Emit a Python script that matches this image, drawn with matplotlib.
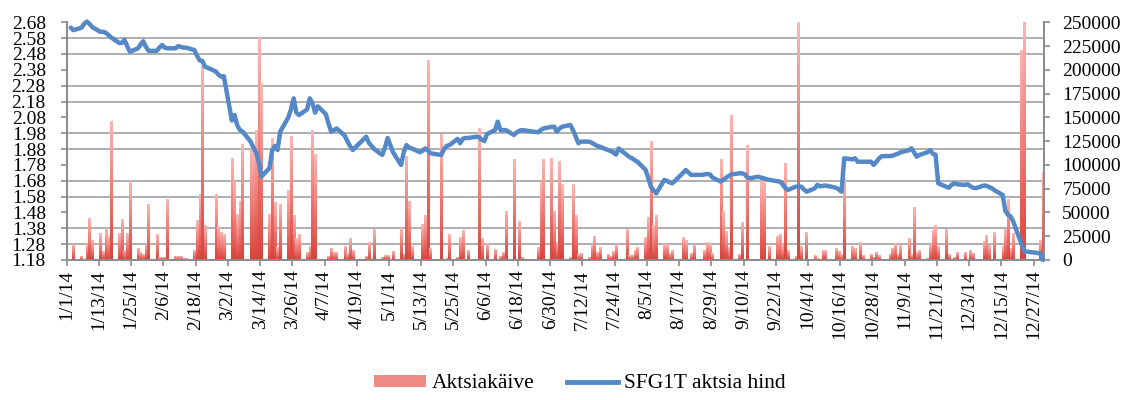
import numpy as np
import pandas as pd
import matplotlib
matplotlib.use('Agg')
import matplotlib.pyplot as plt
from matplotlib.ticker import FixedLocator, FuncFormatter
from matplotlib.patches import Patch
from matplotlib.lines import Line2D
from matplotlib.colors import LinearSegmentedColormap

plt.rcParams['font.family'] = ['Liberation Serif', 'DejaVu Serif']

# ---- data ----
HOLIDAYS = ['2014-01-01', '2014-02-24', '2014-04-18', '2014-04-21', '2014-05-01',
            '2014-06-23', '2014-06-24', '2014-08-20', '2014-12-24', '2014-12-25',
            '2014-12-26', '2014-12-31']

# SFG1T closing price, one value per trading day (month per line)
price = [
    2.646, 2.63, 2.646, 2.67, 2.685, 2.67, 2.65, 2.62, 2.62, 2.615, 2.60, 2.585, 2.55, 2.55, 2.57, 2.53, 2.495, 2.515, 2.54, 2.56, 2.525, 2.50,
    2.50, 2.52, 2.537, 2.52, 2.516, 2.516, 2.53, 2.525, 2.52, 2.52, 2.505, 2.47, 2.44, 2.436, 2.40, 2.37, 2.35, 2.337, 2.34,
    2.06, 2.095, 2.03, 2.00, 1.99, 1.927, 1.89, 1.86, 1.80, 1.706, 1.76, 1.87, 1.90, 1.874, 1.99, 2.08, 2.13, 2.20, 2.11, 2.095, 2.13,
    2.20, 2.17, 2.11, 2.15, 2.10, 2.04, 1.99, 2.00, 2.01, 1.965, 1.93, 1.90, 1.874, 1.958, 1.92, 1.90, 1.88, 1.843, 1.89, 1.95,
    1.86, 1.78, 1.86, 1.905, 1.89, 1.884, 1.86, 1.87, 1.884, 1.87, 1.853, 1.845, 1.843, 1.88, 1.90, 1.905, 1.944, 1.917, 1.945, 1.95, 1.95,
    1.958, 1.955, 1.94, 1.93, 1.975, 2.00, 2.053, 2.00, 2.00, 2.00, 1.969, 1.985, 1.995, 2.00, 1.998, 1.986, 2.00, 2.01, 2.02,
    2.021, 1.99, 2.01, 2.021, 2.032, 2.00, 1.96, 1.917, 1.927, 1.927, 1.92, 1.91, 1.90, 1.895, 1.874, 1.868, 1.86, 1.845, 1.884, 1.843, 1.83, 1.822, 1.81,
    1.80, 1.75, 1.70, 1.643, 1.62, 1.60, 1.685, 1.68, 1.67, 1.664, 1.68, 1.73, 1.748, 1.717, 1.717, 1.717, 1.72, 1.723, 1.72, 1.70,
    1.675, 1.685, 1.70, 1.71, 1.72, 1.727, 1.727, 1.72, 1.70, 1.696, 1.706, 1.70, 1.696, 1.69, 1.686, 1.678, 1.675, 1.66, 1.635, 1.622, 1.643, 1.643,
    1.643, 1.625, 1.611, 1.632, 1.654, 1.645, 1.648, 1.65, 1.64, 1.636, 1.625, 1.611, 1.822, 1.815, 1.822, 1.80, 1.80, 1.80, 1.80, 1.78, 1.80, 1.822, 1.835,
    1.836, 1.838, 1.845, 1.85, 1.86, 1.872, 1.885, 1.86, 1.832, 1.843, 1.86, 1.874, 1.85, 1.845, 1.664, 1.642, 1.636, 1.655, 1.664, 1.658,
    1.654, 1.658, 1.645, 1.636, 1.633, 1.65, 1.648, 1.64, 1.632, 1.62, 1.59, 1.49, 1.465, 1.455, 1.42, 1.28, 1.235, 1.222, 1.18,
]

# traded volume, one value per trading day (month per line)
volume = [
    0, 16500, 4200, 0, 16500, 43800, 21000, 28000, 8800, 33300, 24500, 146000, 28000, 43000, 9500, 28000, 83000, 12300, 8000, 6000, 15800, 58500,
    27300, 2800, 2800, 2800, 64000, 4200, 4200, 4200, 1800, 1800, 9500, 42000, 68400, 203000, 36000, 68400, 35000, 29000, 26300,
    107000, 82400, 48000, 62000, 121700, 115700, 114600, 135700, 233000, 185800, 48000, 127300, 60700, 13000, 58500, 72600, 130400, 47300, 22100, 27000, 8000,
    14700, 135700, 111100, 0, 0, 3200, 12300, 7700, 8400, 13700, 6700, 22800, 10500, 3200, 18600, 1800, 32600, 2500, 4600, 4600,
    9000, 33300, 6000, 108700, 62000, 14000, 0, 37500, 46600, 210000, 11600, 0, 132000, 0, 1800, 27300, 2800, 23500, 31500, 0, 9500,
    0, 138500, 22100, 0, 17500, 11200, 0, 3500, 8000, 50800, 106200, 0, 41000, 2500, 0, 13300, 81700, 105200, 107000,
    51500, 18600, 103400, 79600, 2800, 79000, 47300, 6000, 7000, 2500, 15800, 24500, 8000, 13000, 5300, 3500, 8800, 15800, 0, 32600, 4600, 4600, 10500,
    13000, 23500, 44500, 124500, 36800, 46300, 16500, 16500, 6700, 10500, 0, 23500, 20000, 6700, 16500, 0, 10500, 18600, 15800, 7000,
    106200, 50800, 30500, 13000, 151500, 5300, 39600, 0, 120000, 0, 0, 83000, 82400, 0, 14000, 24500, 26300, 15800, 101000, 9500, 3200, 250000,
    14000, 0, 29000, 4600, 1800, 0, 10200, 9500, 0, 12300, 8800, 5300, 86000, 14000, 12300, 0, 18600, 4600, 5300, 2500, 8000, 4600, 0,
    6000, 11600, 17500, 6000, 15000, 22100, 6000, 55000, 8000, 10500, 1800, 16500, 31500, 36000, 14000, 32600, 6000, 0, 2500, 7400,
    8000, 0, 10500, 6700, 0, 19300, 25600, 15000, 0, 29000, 14000, 32600, 64000, 12300, 28000, 220000, 250000, 20000, 92000,
]

price_ticks = [1.18, 1.28, 1.38, 1.48, 1.58, 1.68, 1.78, 1.88, 1.98, 2.08, 2.18, 2.28, 2.38, 2.48, 2.58, 2.68]
volume_ticks = [0, 25000, 50000, 75000, 100000, 125000, 150000, 175000, 200000, 225000, 250000]

LINE_COLOR = '#5488C6'
GRID_COLOR = '#A8A8A8'
AXIS_COLOR = '#8C8C8C'

# ---- dates ----
start = pd.Timestamp('2014-01-01')
dates = pd.bdate_range('2014-01-01', '2014-12-31')
dates = dates[~dates.isin(pd.to_datetime(HOLIDAYS))]
assert len(dates) == len(price) == len(volume)
xday = (dates - start).days.to_numpy() + 0.5

tick_dates = pd.date_range(start, periods=31, freq='12D')
tick_pos = (tick_dates - start).days.to_numpy()
tick_labels = [f"{d.month}/{d.day}/14" for d in tick_dates]

# ---- figure ----
fig = plt.figure(figsize=(11.28, 4.0), dpi=100)
ax = fig.add_axes([66.7 / 1128, 1 - 260 / 400, (1044.3 - 66.7) / 1128, (260 - 22.3) / 400])
ax2 = ax.twinx()

# volume bars with a vertical red gradient
bars = ax.bar(xday, volume, width=0.85, color='none', edgecolor='none')
cmap = LinearSegmentedColormap.from_list('vol', ['#D8433C', '#EE7B76', '#FBB6B3'])
grad = np.linspace(0, 1, 64).reshape(-1, 1)
for b in bars:
    if b.get_height() <= 0:
        continue
    ax.imshow(grad, cmap=cmap, origin='lower', aspect='auto', interpolation='bilinear',
              extent=[b.get_x(), b.get_x() + b.get_width(), 0, b.get_height()], zorder=2)

ax.set_xlim(0, 364)
ax.set_ylim(0, 250000)
ax.yaxis.tick_right()
ax.set_yticks(volume_ticks)
ax.yaxis.set_major_formatter(FuncFormatter(lambda v, p: f"{int(v)}"))
ax.yaxis.set_minor_locator(FixedLocator(np.linspace(0, 250000, len(price_ticks))))
ax.grid(which='minor', axis='y', color=GRID_COLOR, linewidth=1.3)
ax.set_axisbelow(True)
ax.set_xticks(tick_pos)
ax.set_xticklabels(tick_labels, rotation=90)

# price line
ax2.plot(xday, price, color=LINE_COLOR, linewidth=3.2, solid_joinstyle='round',
         solid_capstyle='round', clip_on=False, zorder=3)
ax2.set_ylim(1.18, 2.68)
ax2.yaxis.tick_left()
ax2.set_yticks(price_ticks)
ax2.yaxis.set_major_formatter(FuncFormatter(lambda v, p: f"{v:.2f}"))

for a in (ax, ax2):
    a.spines['top'].set_visible(False)
    for s in ('left', 'right', 'bottom'):
        a.spines[s].set_color(AXIS_COLOR)
        a.spines[s].set_linewidth(1.3)
    a.tick_params(which='minor', length=0)

ax.tick_params(axis='x', which='major', length=4, width=1.2, color=AXIS_COLOR, labelsize=14, pad=3)
ax.tick_params(axis='y', which='major', length=4, width=1.2, color=AXIS_COLOR, labelsize=14, pad=9)
ax2.tick_params(axis='y', which='major', length=4, width=1.2, color=AXIS_COLOR, labelsize=14, pad=11)

handles = [Patch(facecolor='#F08A86', edgecolor='none'),
           Line2D([0], [0], color=LINE_COLOR, linewidth=3.5)]
fig.legend(handles, ['Aktsiakäive', 'SFG1T aktsia hind'], loc='center',
           bbox_to_anchor=(0.514, 0.04), ncol=2, frameon=False, fontsize=15.5,
           handlelength=2.4, handleheight=0.5, handletextpad=0.25, columnspacing=1.5)

fig.savefig('out.png', dpi=100)
